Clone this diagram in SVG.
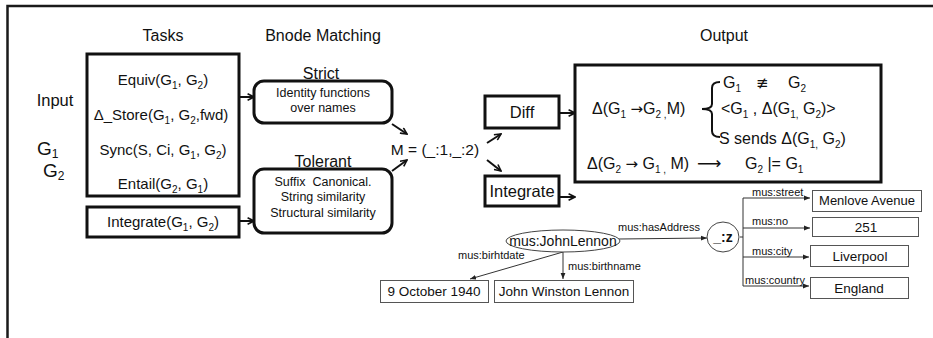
<svg xmlns="http://www.w3.org/2000/svg" width="933" height="338" viewBox="0 0 933 338">
<style>
text{font-family:"Liberation Sans",Arial,"DejaVu Sans",sans-serif;fill:#111}
.h{font-size:16px;text-anchor:middle}
.t{font-size:15px;text-anchor:middle}
.s{font-size:12.5px;text-anchor:middle}
.o{font-size:16px}
.sub{font-size:10px}
.ar{font-family:"DejaVu Sans",sans-serif}
.box{fill:#fff;stroke:#111;stroke-width:3}
.thin{fill:#fff;stroke:#555;stroke-width:1}
.conn{stroke:#111;stroke-width:2;fill:none;marker-end:url(#open)}
.rdf{stroke:#333;stroke-width:1;fill:none}
.rdfa{stroke:#333;stroke-width:1;fill:none;marker-end:url(#tri)}
.lbl{font-size:11px}
.val{font-size:13.5px;text-anchor:middle}
</style>
<defs>
<marker id="open" viewBox="0 0 10 10" refX="9" refY="5" markerWidth="8" markerHeight="8" markerUnits="userSpaceOnUse" orient="auto"><path d="M1,1 L9,5 L1,9" fill="none" stroke="#111" stroke-width="2"/></marker>
<marker id="tri" viewBox="0 0 10 10" refX="10" refY="5" markerWidth="6" markerHeight="6" markerUnits="userSpaceOnUse" orient="auto"><path d="M0,1 L10,5 L0,9z" fill="#222"/></marker>
</defs>
<rect width="933" height="338" fill="#fff"/>
<path d="M7.5,338 V6 H933" fill="none" stroke="#1a1a1a" stroke-width="2.5"/>

<g id="headers">
<text class="h" x="163" y="41">Tasks</text>
<text class="h" x="323" y="41">Bnode Matching</text>
<text class="h" x="724" y="41">Output</text>
</g>

<g id="input">
<text x="55" y="106" style="font-size:16.5px;text-anchor:middle">Input</text>
<text x="37" y="155" style="font-size:19px">G<tspan style="font-size:12px" dy="3">1</tspan></text>
<text x="43" y="177" style="font-size:19px">G<tspan style="font-size:12px" dy="3">2</tspan></text>
</g>

<g id="tasks">
<rect class="box" x="87" y="54" width="152" height="142"/>
<text class="t" x="163" y="85">Equiv(G<tspan class="sub" dy="4">1</tspan><tspan dy="-4">, G</tspan><tspan class="sub" dy="4">2</tspan><tspan dy="-4">)</tspan></text>
<text class="t" x="161" y="120">Δ_Store(G<tspan class="sub" dy="4">1</tspan><tspan dy="-4">, G</tspan><tspan class="sub" dy="4">2</tspan><tspan dy="-4">,fwd)</tspan></text>
<text class="t" x="163" y="155">Sync(S, Ci, G<tspan class="sub" dy="4">1</tspan><tspan dy="-4">, G</tspan><tspan class="sub" dy="4">2</tspan><tspan dy="-4">)</tspan></text>
<text class="t" x="163" y="189">Entail(G<tspan class="sub" dy="4">2</tspan><tspan dy="-4">, G</tspan><tspan class="sub" dy="4">1</tspan><tspan dy="-4">)</tspan></text>
</g>

<g id="integrate-task">
<rect class="box" x="87" y="207" width="152" height="30"/>
<text class="t" x="163" y="227">Integrate(G<tspan class="sub" dy="4">1</tspan><tspan dy="-4">, G</tspan><tspan class="sub" dy="4">2</tspan><tspan dy="-4">)</tspan></text>
</g>

<g id="strict">
<rect class="box" x="254" y="81" width="138" height="42" rx="10"/>
<text class="h" x="321" y="79">Strict</text>
<text class="s" x="323" y="97">Identity functions</text>
<text class="s" x="323" y="112">over names</text>
</g>

<g id="tolerant">
<rect class="box" x="254" y="169" width="138" height="64" rx="10"/>
<text class="h" x="323" y="167">Tolerant</text>
<text class="s" x="323" y="186" xml:space="preserve">Suffix  Canonical.</text>
<text class="s" x="323" y="201">String similarity</text>
<text class="s" x="323" y="217">Structural similarity</text>
</g>

<g id="matching">
<text x="435" y="155" style="font-size:15.5px;text-anchor:middle">M = (_:1,_:2)</text>
</g>

<g id="diff">
<rect class="box" x="485" y="96" width="74" height="32"/>
<text x="522" y="118" style="font-size:16.5px;text-anchor:middle">Diff</text>
</g>

<g id="integrate">
<rect class="box" x="485" y="176" width="74" height="30"/>
<text x="522" y="197" style="font-size:16.5px;text-anchor:middle">Integrate</text>
</g>

<g id="output">
<rect class="box" x="575" y="65" width="306" height="117"/>
<text class="o" x="723" y="88">G<tspan class="sub" dy="4">1</tspan></text>
<text class="o ar" x="756" y="88" style="font-size:15px">≢</text>
<text class="o" x="788" y="88">G<tspan class="sub" dy="4">2</tspan></text>
<text class="o" x="592" y="114" xml:space="preserve">Δ(G<tspan class="sub" dy="4">1</tspan><tspan dy="-4"> </tspan><tspan class="ar" style="font-size:15px">→</tspan><tspan>G</tspan><tspan class="sub" dy="4">2 ,</tspan><tspan dy="-4">M)</tspan></text>
<path d="M720,82 Q712,82 712,88 L712,104 Q712,109 702,109 Q712,109 712,114 L712,131 Q712,137 720,137" fill="none" stroke="#111" stroke-width="2"/>
<text class="o" x="721" y="114">&lt;G<tspan class="sub" dy="4">1</tspan><tspan dy="-4"> , Δ(G</tspan><tspan class="sub" dy="4">1,</tspan><tspan dy="-4"> G</tspan><tspan class="sub" dy="4">2</tspan><tspan dy="-4">)&gt;</tspan></text>
<text class="o" x="719" y="144">S sends Δ(G<tspan class="sub" dy="4">1,</tspan><tspan dy="-4"> G</tspan><tspan class="sub" dy="4">2</tspan><tspan dy="-4">)</tspan></text>
<text class="o" x="587" y="169" xml:space="preserve">Δ(G<tspan class="sub" dy="4">2</tspan><tspan dy="-4"> </tspan><tspan class="ar" style="font-size:15px">→</tspan><tspan> G</tspan><tspan class="sub" dy="4">1 ,</tspan><tspan dy="-4"> M)</tspan></text>
<text class="o ar" x="697" y="169" style="font-size:17px">⟶</text>
<text class="o" x="745" y="169">G<tspan class="sub" dy="4">2</tspan><tspan dy="-4"> |= G</tspan><tspan class="sub" dy="4">1</tspan></text>
</g>

<g id="connectors">
<line class="conn" x1="240" y1="97" x2="254" y2="97"/>
<line class="conn" x1="240" y1="221" x2="254" y2="221"/>
<line class="conn" x1="392" y1="124" x2="407" y2="134"/>
<line class="conn" x1="392" y1="171" x2="407" y2="160"/>
<line class="conn" x1="487" y1="143" x2="501" y2="134"/>
<line class="conn" x1="487" y1="160" x2="501" y2="171"/>
<line class="conn" x1="560" y1="113" x2="575" y2="113"/>
<line class="conn" x1="560" y1="197" x2="575" y2="197"/>
<line class="rdfa" x1="619" y1="239" x2="707" y2="238"/>
<line class="rdfa" x1="563" y1="252" x2="563" y2="279"/>
<line class="rdfa" x1="563" y1="252" x2="470" y2="279"/>
<path class="rdf" d="M740,237 H743 M743,198 V286"/>
<line class="rdfa" x1="743" y1="198" x2="810" y2="198"/>
<line class="rdfa" x1="743" y1="228" x2="810" y2="228"/>
<line class="rdfa" x1="743" y1="257" x2="809" y2="257"/>
<line class="rdfa" x1="743" y1="286" x2="809" y2="286"/>
</g>

<g id="edge-labels">
<text class="lbl" x="618" y="231">mus:hasAddress</text>
<text class="lbl" x="458" y="259">mus:birhtdate</text>
<text class="lbl" x="568" y="270">mus:birthname</text>
<text class="lbl" x="752" y="196">mus:street</text>
<text class="lbl" x="752" y="225">mus:no</text>
<text class="lbl" x="752" y="255">mus:city</text>
<text class="lbl" x="745" y="284">mus:country</text>
</g>

<g id="johnlennon">
<ellipse cx="563" cy="241" rx="57" ry="11" fill="#fff" stroke="#444" stroke-width="1"/>
<text x="563" y="246" style="font-size:14px;text-anchor:middle">mus:JohnLennon</text>
</g>

<g id="blank-z">
<ellipse cx="723" cy="237" rx="16" ry="15" fill="#fff" stroke="#444" stroke-width="1"/>
<text x="723" y="242" style="font-size:14px;font-weight:bold;text-anchor:middle">_:z</text>
</g>

<g id="birthdate">
<rect class="thin" x="380.5" y="280.5" width="108" height="22"/>
<text class="val" x="434" y="296">9 October 1940</text>
</g>
<g id="birthname">
<rect class="thin" x="494.5" y="280.5" width="139" height="22"/>
<text class="val" x="564" y="296">John Winston Lennon</text>
</g>
<g id="street">
<rect class="thin" x="812.5" y="190.5" width="109" height="21"/>
<text class="val" x="867" y="205" style="font-size:13px">Menlove Avenue</text>
</g>
<g id="no">
<rect class="thin" x="812.5" y="217.5" width="106" height="19"/>
<text class="val" x="866" y="232">251</text>
</g>
<g id="city">
<rect class="thin" x="810.5" y="245.5" width="98" height="21"/>
<text class="val" x="860" y="261">Liverpool</text>
</g>
<g id="country">
<rect class="thin" x="810.5" y="277.5" width="98" height="21"/>
<text class="val" x="859" y="293">England</text>
</g>
</svg>
